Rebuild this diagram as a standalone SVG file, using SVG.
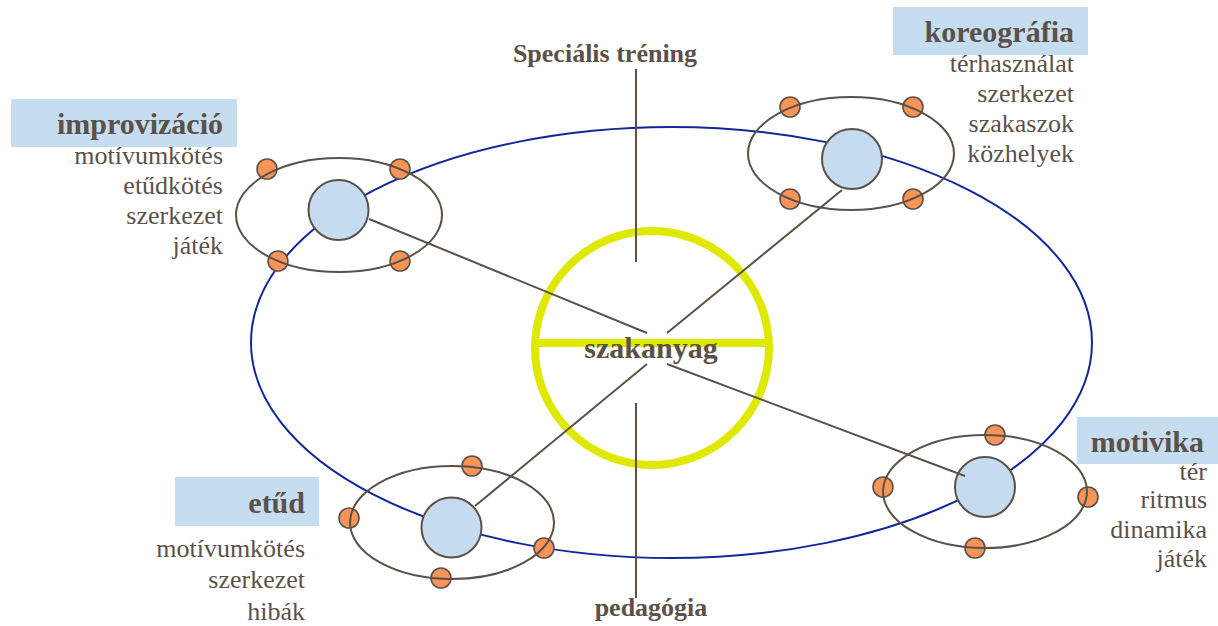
<svg xmlns="http://www.w3.org/2000/svg" width="1218" height="626" viewBox="0 0 1218 626">
<style>
.bg{fill:#ffffff}
.main{fill:none;stroke:#10279b;stroke-width:2}
.orbit{fill:none;stroke:#5b5149;stroke-width:2}
.dot{fill:#f99459;stroke:#5b5149;stroke-width:1.6}
.core{fill:#c5dbef;stroke:#5b5149;stroke-width:2}
.box{fill:#c6dcef}
.ttl{font-family:"Liberation Serif","Times New Roman",serif;font-weight:bold;font-size:30px;fill:#5b5149;text-anchor:end}
.sub{font-family:"Liberation Serif","Times New Roman",serif;font-size:26px;fill:#5b5149;text-anchor:end}
.axis{font-family:"Liberation Serif","Times New Roman",serif;font-weight:bold;font-size:26px;fill:#5b5149;text-anchor:middle}
.conn{stroke:#5b5149;stroke-width:2;fill:none}
.ring{fill:none;stroke:#dfe900;stroke-width:8}
</style>
<rect class="bg" x="0" y="0" width="1218" height="626"/>
<g id="main-orbit">
<ellipse class="main" cx="671.5" cy="342.5" rx="420.5" ry="215.5"/>
</g>
<g id="szakanyag">
<circle class="ring" cx="652" cy="348" r="117"/>
<line class="ring" x1="535" y1="343" x2="769" y2="343"/>
<text class="axis" x="651" y="358" style="font-size:30px">szakanyag</text>
</g>
<g id="specialis-trening">
<text class="axis" x="605" y="62">Speciális tréning</text>
</g>
<g id="pedagogia">
<text class="axis" x="651" y="616">pedagógia</text>
</g>
<g id="improvizacio">
<circle class="dot" cx="267" cy="169" r="10"/>
<circle class="dot" cx="400" cy="169" r="10"/>
<circle class="dot" cx="278" cy="261" r="10"/>
<circle class="dot" cx="400" cy="261" r="10"/>
<ellipse class="orbit" cx="339" cy="215" rx="103" ry="57"/>
<circle class="core" cx="338.5" cy="210" r="30"/>
<rect class="box" x="11" y="99" width="226" height="48"/>
<text class="ttl" x="223" y="134">improvizáció</text>
<text class="sub" x="223" y="164">motívumkötés</text>
<text class="sub" x="223" y="194">etűdkötés</text>
<text class="sub" x="223" y="224">szerkezet</text>
<text class="sub" x="223" y="254">játék</text>
</g>
<g id="koreografia">
<circle class="dot" cx="790" cy="107" r="10"/>
<circle class="dot" cx="913" cy="107" r="10"/>
<circle class="dot" cx="790" cy="199" r="10"/>
<circle class="dot" cx="913" cy="199" r="10"/>
<ellipse class="orbit" cx="851" cy="153.5" rx="103" ry="56.5"/>
<circle class="core" cx="852" cy="159" r="30"/>
<rect class="box" x="893" y="7" width="195" height="48"/>
<text class="ttl" x="1074" y="42">koreográfia</text>
<text class="sub" x="1074" y="72">térhasználat</text>
<text class="sub" x="1074" y="102">szerkezet</text>
<text class="sub" x="1074" y="132">szakaszok</text>
<text class="sub" x="1074" y="162">közhelyek</text>
</g>
<g id="motivika">
<circle class="dot" cx="995" cy="435" r="10"/>
<circle class="dot" cx="883" cy="487" r="10"/>
<circle class="dot" cx="1088" cy="497" r="10"/>
<circle class="dot" cx="975" cy="548" r="10"/>
<ellipse class="orbit" cx="985" cy="491.5" rx="102" ry="56.5"/>
<circle class="core" cx="985" cy="487" r="30"/>
<rect class="box" x="1077" y="417" width="141" height="47"/>
<text class="ttl" x="1204" y="452">motivika</text>
<text class="sub" x="1207" y="480">tér</text>
<text class="sub" x="1207" y="508">ritmus</text>
<text class="sub" x="1207" y="538">dinamika</text>
<text class="sub" x="1207" y="567">játék</text>
</g>
<g id="etud">
<circle class="dot" cx="472" cy="466" r="10"/>
<circle class="dot" cx="349" cy="518" r="10"/>
<circle class="dot" cx="544" cy="548" r="10"/>
<circle class="dot" cx="441" cy="578" r="10"/>
<ellipse class="orbit" cx="452" cy="522.5" rx="102" ry="56.5"/>
<circle class="core" cx="451.5" cy="527.5" r="30"/>
<rect class="box" x="175" y="477" width="144" height="49"/>
<text class="ttl" x="305" y="513">etűd</text>
<text class="sub" x="305" y="557">motívumkötés</text>
<text class="sub" x="305" y="588">szerkezet</text>
<text class="sub" x="305" y="620">hibák</text>
</g>
<g id="connectors">
<line class="conn" x1="636" y1="69" x2="636" y2="262"/>
<line class="conn" x1="636" y1="403" x2="636" y2="598"/>
<line class="conn" x1="647" y1="333" x2="369" y2="219"/>
<line class="conn" x1="667" y1="333" x2="842" y2="190"/>
<line class="conn" x1="647" y1="364" x2="475" y2="506"/>
<line class="conn" x1="667" y1="364" x2="965" y2="476"/>
</g>
</svg>
